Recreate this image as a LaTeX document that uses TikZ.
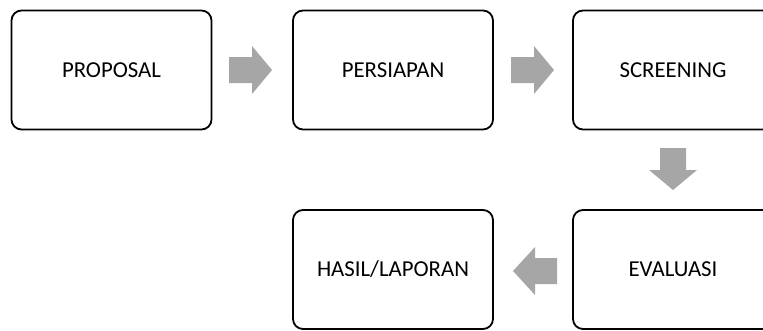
\documentclass[tikz,border=0pt]{standalone}
\usepackage{fontspec}
\setmainfont{Carlito}
\begin{document}
\begin{tikzpicture}[x=1pt,y=-1pt,
  stagebox/.style={draw=black,line width=1.8pt,rounded corners=10pt,fill=white,
    minimum width=200pt,minimum height=119pt,inner sep=0pt,
    font=\fontsize{22.8}{26}\selectfont},
  blockarrow/.style={fill=arrowgray,draw=none}]
\definecolor{arrowgray}{HTML}{A6A6A6}
\useasboundingbox (0,0) rectangle (763,330);
\begin{scope}
\clip (0,0) rectangle (763,330);
\node[stagebox] (proposal) at (111.5,70) {PROPOSAL};
\node[stagebox] (persiapan) at (393,70) {PERSIAPAN};
\node[stagebox] (screening) at (673,70) {SCREENING};
\node[stagebox] (hasil) at (393,269.5) {HASIL/LAPORAN};
\node[stagebox] (evaluasi) at (673,269.5) {EVALUASI};
\end{scope}
% right arrow 1
\fill[blockarrow] (229,57) -- (252,57) -- (252,46) -- (272,70) -- (252,94) -- (252,83) -- (229,83) -- cycle;
% right arrow 2
\fill[blockarrow] (511,57) -- (534,57) -- (534,46) -- (554,70) -- (534,94) -- (534,83) -- (511,83) -- cycle;
% down arrow
\fill[blockarrow] (660,148) -- (686,148) -- (686,170) -- (697,170) -- (673,190) -- (649,170) -- (660,170) -- cycle;
% left arrow
\fill[blockarrow] (557,258) -- (535,258) -- (535,247) -- (513,271) -- (535,295) -- (535,284) -- (557,284) -- cycle;
\end{tikzpicture}
\end{document}
